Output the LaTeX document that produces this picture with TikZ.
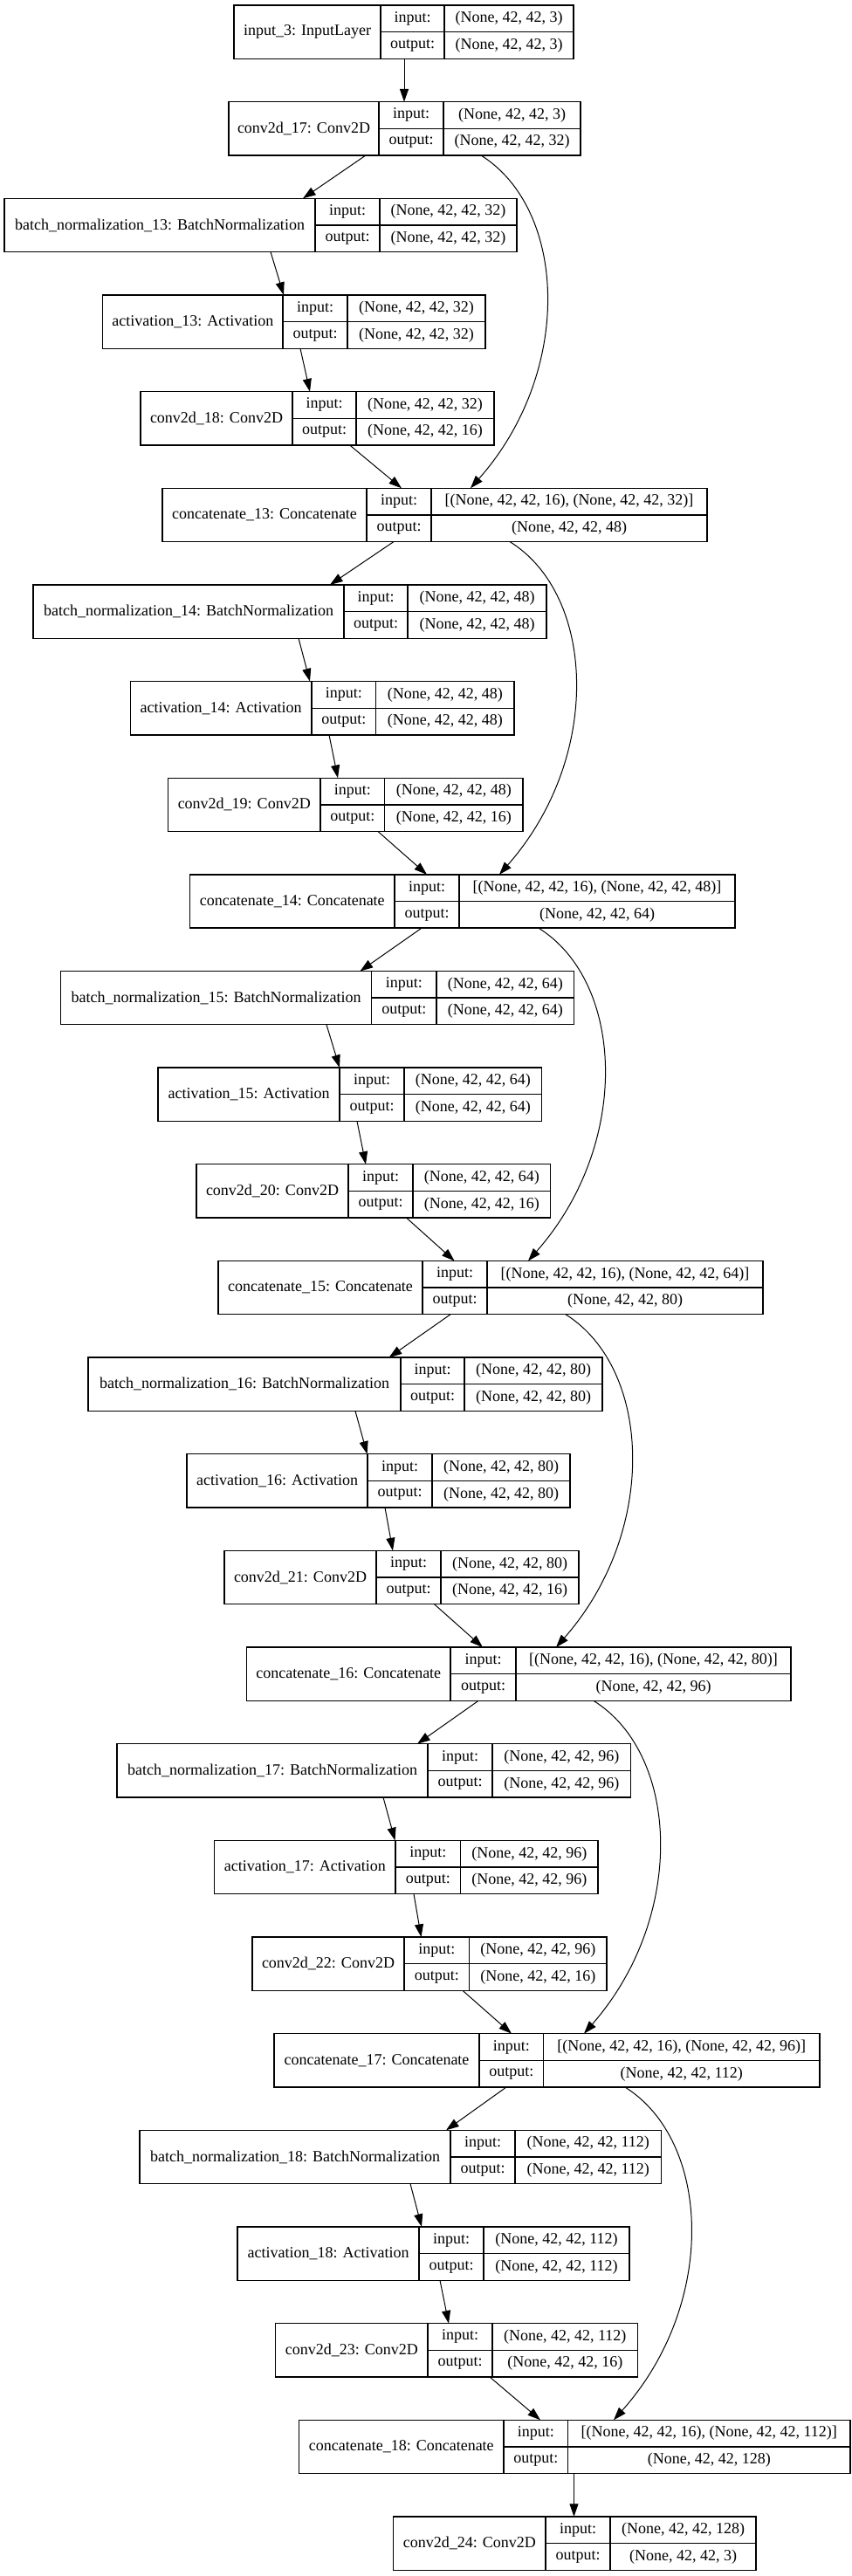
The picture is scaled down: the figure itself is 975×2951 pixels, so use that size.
\documentclass[tikz,border=0pt]{standalone}
\usepackage{fontspec}
\setmainfont{Liberation Serif}
\usetikzlibrary{arrows.meta}

\newcommand{\record}[9]{%
  \pgfmathsetmacro{\rtop}{6+110.65*#2}%
  \pgfmathsetmacro{\rmid}{\rtop+30.65}%
  \pgfmathsetmacro{\rbot}{\rtop+61.3}%
  \node[cell, minimum width={(#6-#3)*0.75pt}, anchor=north west] (#1) at (#3,\rtop) {};
  \draw[cellline] (#4,\rtop) -- (#4,\rbot) (#5,\rtop) -- (#5,\rbot) (#4,\rmid) -- (#6,\rmid);
  \node (#1-name) at ({(#3+#4)/2},\rmid) {#7};
  \node (#1-ilab) at ({(#4+#5)/2},{\rtop+15.3}) {input:};
  \node (#1-olab) at ({(#4+#5)/2},{\rtop+46}) {output:};
  \node (#1-ival) at ({(#5+#6)/2},{\rtop+15.3}) {#8};
  \node (#1-oval) at ({(#5+#6)/2},{\rtop+46}) {#9};
}

\begin{document}
\begin{tikzpicture}[x=0.75pt,y=-0.75pt]
\tikzstyle{every node}+=[inner sep=0pt, font=\fontsize{13.5}{16}\selectfont]
\tikzstyle{cell}=[draw, line width=1pt, outer sep=0pt, minimum height=45.975pt]
\tikzstyle{cellline}=[line width=1pt]
\tikzstyle{edge}=[line width=0.75pt, -{Triangle[length=11pt,width=7.5pt]}]
\useasboundingbox (0,0) rectangle (975,2951);
\record{in3}{0}{268}{436}{509}{657}{input\_3: InputLayer}{(None, 42, 42, 3)}{(None, 42, 42, 3)}
\record{c17}{1}{262}{434}{508}{665}{conv2d\_17: Conv2D}{(None, 42, 42, 3)}{(None, 42, 42, 32)}
\record{bn13}{2}{5}{361}{435}{592}{batch\_normalization\_13: BatchNormalization}{(None, 42, 42, 32)}{(None, 42, 42, 32)}
\record{act13}{3}{117.5}{324}{398}{556}{activation\_13: Activation}{(None, 42, 42, 32)}{(None, 42, 42, 32)}
\record{c18}{4}{161}{335}{408}{566}{conv2d\_18: Conv2D}{(None, 42, 42, 32)}{(None, 42, 42, 16)}
\record{cat13}{5}{186}{420}{494}{810}{concatenate\_13: Concatenate}{[(None, 42, 42, 16), (None, 42, 42, 32)]}{(None, 42, 42, 48)}
\record{bn14}{6}{38}{394}{467}{626}{batch\_normalization\_14: BatchNormalization}{(None, 42, 42, 48)}{(None, 42, 42, 48)}
\record{act14}{7}{149.4}{357}{430.6}{589}{activation\_14: Activation}{(None, 42, 42, 48)}{(None, 42, 42, 48)}
\record{c19}{8}{192.5}{367}{440.6}{599}{conv2d\_19: Conv2D}{(None, 42, 42, 48)}{(None, 42, 42, 16)}
\record{cat14}{9}{217.5}{452}{526}{842}{concatenate\_14: Concatenate}{[(None, 42, 42, 16), (None, 42, 42, 48)]}{(None, 42, 42, 64)}
\record{bn15}{10}{69.4}{425.6}{500}{657.5}{batch\_normalization\_15: BatchNormalization}{(None, 42, 42, 64)}{(None, 42, 42, 64)}
\record{act15}{11}{181}{389}{463}{620.6}{activation\_15: Activation}{(None, 42, 42, 64)}{(None, 42, 42, 64)}
\record{c20}{12}{225}{399}{473}{630.6}{conv2d\_20: Conv2D}{(None, 42, 42, 64)}{(None, 42, 42, 16)}
\record{cat15}{13}{250}{484}{558}{874}{concatenate\_15: Concatenate}{[(None, 42, 42, 16), (None, 42, 42, 64)]}{(None, 42, 42, 80)}
\record{bn16}{14}{101}{459}{532}{690}{batch\_normalization\_16: BatchNormalization}{(None, 42, 42, 80)}{(None, 42, 42, 80)}
\record{act16}{15}{214}{421}{495}{653}{activation\_16: Activation}{(None, 42, 42, 80)}{(None, 42, 42, 80)}
\record{c21}{16}{257}{431}{505}{663}{conv2d\_21: Conv2D}{(None, 42, 42, 80)}{(None, 42, 42, 16)}
\record{cat16}{17}{282.5}{516}{591}{906}{concatenate\_16: Concatenate}{[(None, 42, 42, 16), (None, 42, 42, 80)]}{(None, 42, 42, 96)}
\record{bn17}{18}{134}{490}{564}{722.5}{batch\_normalization\_17: BatchNormalization}{(None, 42, 42, 96)}{(None, 42, 42, 96)}
\record{act17}{19}{245.6}{453}{527.5}{685}{activation\_17: Activation}{(None, 42, 42, 96)}{(None, 42, 42, 96)}
\record{c22}{20}{289}{463}{537.5}{695}{conv2d\_22: Conv2D}{(None, 42, 42, 96)}{(None, 42, 42, 16)}
\record{cat17}{21}{314}{549}{622.5}{939}{concatenate\_17: Concatenate}{[(None, 42, 42, 16), (None, 42, 42, 96)]}{(None, 42, 42, 112)}
\record{bn18}{22}{160}{516}{590}{757.5}{batch\_normalization\_18: BatchNormalization}{(None, 42, 42, 112)}{(None, 42, 42, 112)}
\record{act18}{23}{272}{480}{554}{721}{activation\_18: Activation}{(None, 42, 42, 112)}{(None, 42, 42, 112)}
\record{c23}{24}{315.6}{490}{564}{730.6}{conv2d\_23: Conv2D}{(None, 42, 42, 112)}{(None, 42, 42, 16)}
\record{cat18}{25}{342.5}{577}{650.6}{974}{concatenate\_18: Concatenate}{[(None, 42, 42, 16), (None, 42, 42, 112)]}{(None, 42, 42, 128)}
\record{c24}{26}{450.6}{625}{699}{866}{conv2d\_24: Conv2D}{(None, 42, 42, 128)}{(None, 42, 42, 3)}
\draw[edge] (463,0 |- in3.south) -- (463,0 |- c17.north);
\draw[edge] (419,0 |- c17.south) -- (347,0 |- bn13.north);
\draw[edge] (310,0 |- bn13.south) -- (325,0 |- act13.north);
\draw[edge] (344,0 |- act13.south) -- (355,0 |- c18.north);
\draw[edge] (400.6,0 |- c18.south) -- (460,0 |- cat13.north);
\draw[edge] (451,0 |- cat13.south) -- (378,0 |- bn14.north);
\draw[edge] (342,0 |- bn14.south) -- (355,0 |- act14.north);
\draw[edge] (377,0 |- act14.south) -- (387,0 |- c19.north);
\draw[edge] (433,0 |- c19.south) -- (489,0 |- cat14.north);
\draw[edge] (483,0 |- cat14.south) -- (412.5,0 |- bn15.north);
\draw[edge] (374,0 |- bn15.south) -- (389,0 |- act15.north);
\draw[edge] (409,0 |- act15.south) -- (419,0 |- c20.north);
\draw[edge] (465.6,0 |- c20.south) -- (520.6,0 |- cat15.north);
\draw[edge] (516,0 |- cat15.south) -- (445.6,0 |- bn16.north);
\draw[edge] (407,0 |- bn16.south) -- (420.6,0 |- act16.north);
\draw[edge] (441,0 |- act16.south) -- (450,0 |- c21.north);
\draw[edge] (497.5,0 |- c21.south) -- (553,0 |- cat16.north);
\draw[edge] (548,0 |- cat16.south) -- (478,0 |- bn17.north);
\draw[edge] (439,0 |- bn17.south) -- (452.5,0 |- act17.north);
\draw[edge] (474,0 |- act17.south) -- (482.5,0 |- c22.north);
\draw[edge] (530,0 |- c22.south) -- (586,0 |- cat17.north);
\draw[edge] (580,0 |- cat17.south) -- (511,0 |- bn18.north);
\draw[edge] (470,0 |- bn18.south) -- (483,0 |- act18.north);
\draw[edge] (504,0 |- act18.south) -- (514,0 |- c23.north);
\draw[edge] (561,0 |- c23.south) -- (619,0 |- cat18.north);
\draw[edge] (657.5,0 |- cat18.south) -- (657.5,0 |- c24.north);
\draw[edge] (551,0 |- c17.south) .. controls (650,240) and (657,426) .. (539,0 |- cat13.north);
\draw[edge] (584,0 |- cat13.south) .. controls (683,682) and (690,868) .. (572,0 |- cat14.north);
\draw[edge] (617,0 |- cat14.south) .. controls (716,1125) and (723,1311) .. (605,0 |- cat15.north);
\draw[edge] (648,0 |- cat15.south) .. controls (747,1568) and (754,1754) .. (637,0 |- cat16.north);
\draw[edge] (680,0 |- cat16.south) .. controls (779,2010) and (786,2196) .. (669,0 |- cat17.north);
\draw[edge] (716,0 |- cat17.south) .. controls (815,2453) and (822,2639) .. (703,0 |- cat18.north);
\end{tikzpicture}
\end{document}
